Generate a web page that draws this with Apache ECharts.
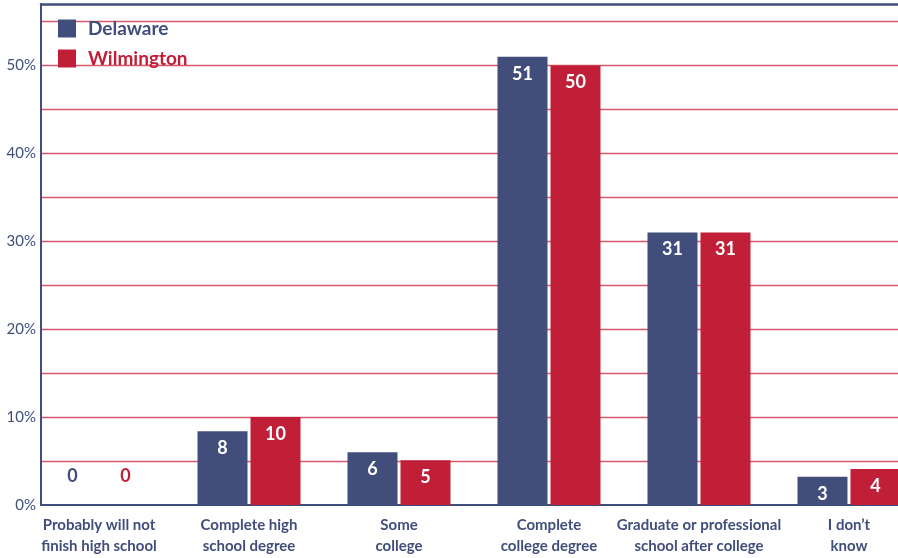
<!DOCTYPE html>
<html><head><meta charset="utf-8">
<script src="https://cdn.jsdelivr.net/npm/echarts@6/dist/echarts.min.js"></script>
<style>html,body{margin:0;padding:0;background:#fff}#c{width:898px;height:558px}</style>
</head><body><div id="c"></div>
<script>
const categories = ["Probably will not\nfinish high school","Complete high\nschool degree","Some\ncollege","Complete\ncollege degree","Graduate or professional\nschool after college","I don\u2019t\nknow"];
const delaware = [0, 8.4, 6, 51, 31, 3.2];
const wilmington = [0, 10, 5.1, 50, 31, 4.1];
const yTicks = [0, 10, 20, 30, 40, 50];
const NAVY = '#414e7b', RED = '#c01f37', GRID = '#d65a6b';
const FONT = 'Lato';
const catIdx = categories.map((c, i) => i);

function mkData(vals, color){
  return vals.map((v, i) => v === 0 ? {value: [i, v], label: {position: 'top', distance: 20, color: color}} : [i, v]);
}
function mkSeries(name, vals, color){
  return {
    name: name, type: 'bar', xAxisIndex: 0, yAxisIndex: 0,
    data: mkData(vals, color), barWidth: 50, barGap: '6%',
    itemStyle: {color: color},
    label: {show: true, position: 'insideTop', distance: 8, color: '#fff',
      fontFamily: FONT, fontWeight: 'bold', fontSize: 18,
      formatter: p => String(Math.round(p.value[1]))}
  };
}
const chart = echarts.init(document.getElementById('c'));
chart.setOption({
  animation: false,
  textStyle: {fontFamily: FONT},
  grid: [{left: 41, right: 0, top: 4, bottom: 53}],
  legend: {
    orient: 'vertical', left: 53, top: 14, itemWidth: 18, itemHeight: 18, itemGap: 11,
    icon: 'rect',
    data: [
      {name: 'Delaware', textStyle: {color: NAVY}},
      {name: 'Wilmington', textStyle: {color: RED}}
    ],
    textStyle: {fontFamily: FONT, fontWeight: 'bold', fontSize: 19, padding: [0, 0, 0, 7]}
  },
  xAxis: [
    {type: 'value', min: -0.3867, max: 5.3267, position: 'bottom',
      axisLine: {show: true, onZero: false, lineStyle: {color: NAVY, width: 2}},
      axisTick: {show: false}, splitLine: {show: false},
      axisLabel: {customValues: catIdx, formatter: v => categories[Math.round(v)] || '',
        color: NAVY, fontFamily: FONT, fontWeight: 'bold', fontSize: 15, lineHeight: 21, margin: 10,
        showMinLabel: true, showMaxLabel: true, hideOverlap: false}},
    {type: 'value', min: 0, max: 1, position: 'top',
      axisLine: {show: true, onZero: false, lineStyle: {color: NAVY, width: 2.5}},
      axisTick: {show: false}, axisLabel: {show: false}, splitLine: {show: false}}
  ],
  yAxis: [
    {type: 'value', min: 0, max: 57, interval: 5, position: 'left',
      axisLine: {show: true, onZero: false, lineStyle: {color: NAVY, width: 2}},
      axisTick: {show: false},
      axisLabel: {color: NAVY, fontFamily: FONT, fontSize: 15, margin: 5,
        formatter: v => yTicks.indexOf(v) >= 0 ? v + '%' : ''},
      splitLine: {show: true, showMinLine: false, showMaxLine: false, lineStyle: {color: GRID, width: 1.3}}}
  ],
  series: [mkSeries('Delaware', delaware, NAVY), mkSeries('Wilmington', wilmington, RED)]
});
</script></body></html>
